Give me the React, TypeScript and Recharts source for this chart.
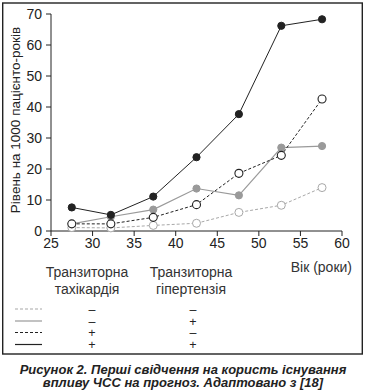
import React from "react";
import { LineChart, Line, XAxis, YAxis } from "recharts";

const ages = [27.5, 32.2, 37.3, 42.5, 47.6, 52.7, 57.6];
const noneSeries = [1.1, 1.0, 1.8, 2.5, 6.0, 8.3, 14.0];
const hyperSeries = [2.3, 4.6, 6.9, 13.7, 11.5, 26.9, 27.4];
const tachySeries = [2.3, 2.3, 4.4, 8.5, 18.6, 24.4, 42.6];
const bothSeries = [7.6, 5.2, 11.1, 23.8, 37.7, 66.2, 68.3];
const xTicks = [25, 30, 35, 40, 45, 50, 55, 60];
const yTicks = [0, 10, 20, 30, 40, 50, 60, 70];

const data = ages.map((a, i) => ({
  age: a,
  none: noneSeries[i],
  hyper: hyperSeries[i],
  tachy: tachySeries[i],
  both: bothSeries[i],
}));

const FONT = "'Liberation Sans', Arial, Helvetica, sans-serif";
const DARK = "#222";
const GRAY = "#9a9a9a";
const LGRAY = "#a8a8a8";

const legendRows = [
  { y: 309, dash: "3 2", color: LGRAY, t: "–", h: "–" },
  { y: 321, dash: undefined, color: GRAY, t: "–", h: "+" },
  { y: 332.5, dash: "3 2", color: DARK, t: "+", h: "–" },
  { y: 344.5, dash: undefined, color: DARK, t: "+", h: "+" },
];

export default function App() {
  return (
    <div style={{ position: "absolute", left: 0, top: 0, width: 366, height: 390, background: "#fff" }}>
      <LineChart
        width={366}
        height={390}
        data={data}
        margin={{ top: 14, right: 24, left: 11, bottom: 129 }}
      >
        <XAxis
          dataKey="age"
          type="number"
          domain={[25, 60]}
          ticks={xTicks}
          height={30}
          stroke={DARK}
          tickSize={5}
          tick={{ fontSize: 14, fill: DARK, fontFamily: FONT }}
          tickMargin={2}
        />
        <YAxis
          type="number"
          domain={[0, 70]}
          ticks={yTicks}
          width={40}
          stroke={DARK}
          tickSize={5}
          tick={{ fontSize: 14, fill: DARK, fontFamily: FONT }}
          tickMargin={4}
        />
        <Line
          dataKey="none"
          stroke={LGRAY}
          strokeWidth={1}
          strokeDasharray="3 2"
          dot={{ r: 4, fill: "#fff", stroke: LGRAY, strokeWidth: 1, strokeDasharray: "" }}
          isAnimationActive={false}
        />
        <Line
          dataKey="hyper"
          stroke={GRAY}
          strokeWidth={1.2}
          dot={{ r: 3.6, fill: GRAY, stroke: GRAY, strokeWidth: 1 }}
          isAnimationActive={false}
        />
        <Line
          dataKey="tachy"
          stroke={DARK}
          strokeWidth={1}
          strokeDasharray="3 2"
          dot={{ r: 4, fill: "#fff", stroke: DARK, strokeWidth: 1.1, strokeDasharray: "" }}
          isAnimationActive={false}
        />
        <Line
          dataKey="both"
          stroke={DARK}
          strokeWidth={1}
          dot={{ r: 3.6, fill: DARK, stroke: DARK, strokeWidth: 1 }}
          isAnimationActive={false}
        />
      </LineChart>
      <svg
        width={366}
        height={390}
        style={{ position: "absolute", left: 0, top: 0, pointerEvents: "none" }}
        fontFamily={FONT}
      >
        <rect x={2.7} y={3} width={359.6} height={351} fill="none" stroke={DARK} strokeWidth={1.4} />
        <text
          x={20}
          y={120}
          transform="rotate(-90 20 120)"
          textAnchor="middle"
          fontSize={13.5}
          fill={DARK}
        >
          Рівень на 1000 пацієнто-років
        </text>
        <text x={352} y={272} textAnchor="end" fontSize={14} fill="#333">
          Вік (роки)
        </text>
        <text x={87} y={277} textAnchor="middle" fontSize={14} fill="#333">
          Транзиторна
        </text>
        <text x={87} y={294} textAnchor="middle" fontSize={14} fill="#333">
          тахікардія
        </text>
        <text x={191} y={277} textAnchor="middle" fontSize={14} fill="#333">
          Транзиторна
        </text>
        <text x={191} y={294} textAnchor="middle" fontSize={14} fill="#333">
          гіпертензія
        </text>
        {legendRows.map((r, i) => (
          <g key={i}>
            <line x1={15} x2={42} y1={r.y} y2={r.y} stroke={r.color} strokeWidth={1.2} strokeDasharray={r.dash} />
            <text x={92} y={r.y + 4.5} textAnchor="middle" fontSize={12.5} fill={DARK}>
              {r.t}
            </text>
            <text x={193} y={r.y + 4.5} textAnchor="middle" fontSize={12.5} fill={DARK}>
              {r.h}
            </text>
          </g>
        ))}
        <text x={183} y={374} textAnchor="middle" fontSize={13} fontWeight="bold" fontStyle="italic" fill={DARK}>
          Рисунок 2. Перші свідчення на користь існування
        </text>
        <text x={183} y={387} textAnchor="middle" fontSize={13} fontWeight="bold" fontStyle="italic" fill={DARK}>
          впливу ЧСС на прогноз. Адаптовано з [18]
        </text>
      </svg>
    </div>
  );
}
